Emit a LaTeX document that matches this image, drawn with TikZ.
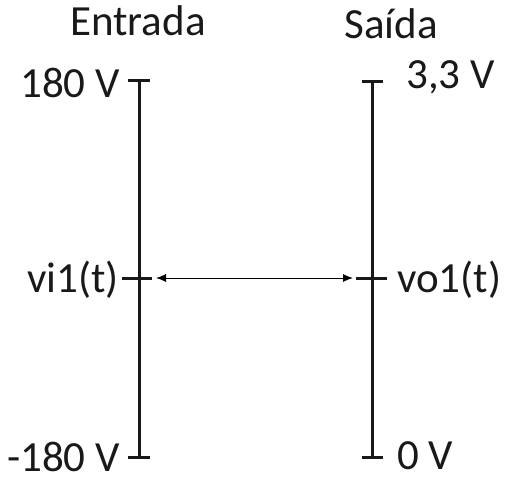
\documentclass[tikz,border=0pt]{standalone}
\usepackage{fontspec}
\setmainfont{Carlito}
\usetikzlibrary{arrows.meta}
\tikzset{
  lbl/.style={inner sep=0pt, font=\fontsize{43}{50}\selectfont, text=black!90},
  axis/.style={line width=3pt, black!90},
  tickln/.style={line width=3pt, black!90},
  link/.style={line width=1pt, {Latex[length=10pt,width=8pt]}-{Latex[length=10pt,width=8pt]}}
}
\begin{document}
\begin{tikzpicture}[x=1pt,y=-1pt]
\useasboundingbox (0,0) rectangle (509,488);
% titles
\node[lbl, anchor=base] (tin) at (138,35) {Entrada};
\node[lbl, anchor=base] (tout) at (391,38) {Saída};
% axes
\coordinate (lt) at (139,80);
\coordinate (lb) at (139,457);
\coordinate (rt) at (372,81);
\coordinate (rb) at (372,457);
\draw[axis] (lt) -- (lb);
\draw[axis] (rt) -- (rb);
% ticks
\coordinate (lt1) at (128,80); \coordinate (lt2) at (150,80);
\coordinate (lb1) at (128,457); \coordinate (lb2) at (150,457);
\coordinate (rt1) at (362,81); \coordinate (rt2) at (383,81);
\coordinate (rb1) at (362,457); \coordinate (rb2) at (383,457);
\coordinate (lm1) at (122,278); \coordinate (lm2) at (152,278);
\coordinate (rm1) at (356,278); \coordinate (rm2) at (387,278);
\draw[tickln] (lt1) -- (lt2);
\draw[tickln] (lb1) -- (lb2);
\draw[tickln] (rt1) -- (rt2);
\draw[tickln] (rb1) -- (rb2);
\draw[tickln] (lm1) -- (lm2);
\draw[tickln] (rm1) -- (rm2);
% arrow
\coordinate (a1) at (156,278);
\coordinate (a2) at (353,278);
\draw[link] (a1) -- (a2);
% labels
\node[lbl, anchor=base east] (l180) at (120,97) {180 V};
\node[lbl, anchor=base east] (lvi) at (119,292) {vi1(t)};
\node[lbl, anchor=base east] (lm180) at (120,471) {-180 V};
\node[lbl, anchor=base west] (r33) at (406,88) {3,3 V};
\node[lbl, anchor=base west] (rvo) at (397,292) {vo1(t)};
\node[lbl, anchor=base west] (r0) at (397,469) {0 V};
\end{tikzpicture}
\end{document}
